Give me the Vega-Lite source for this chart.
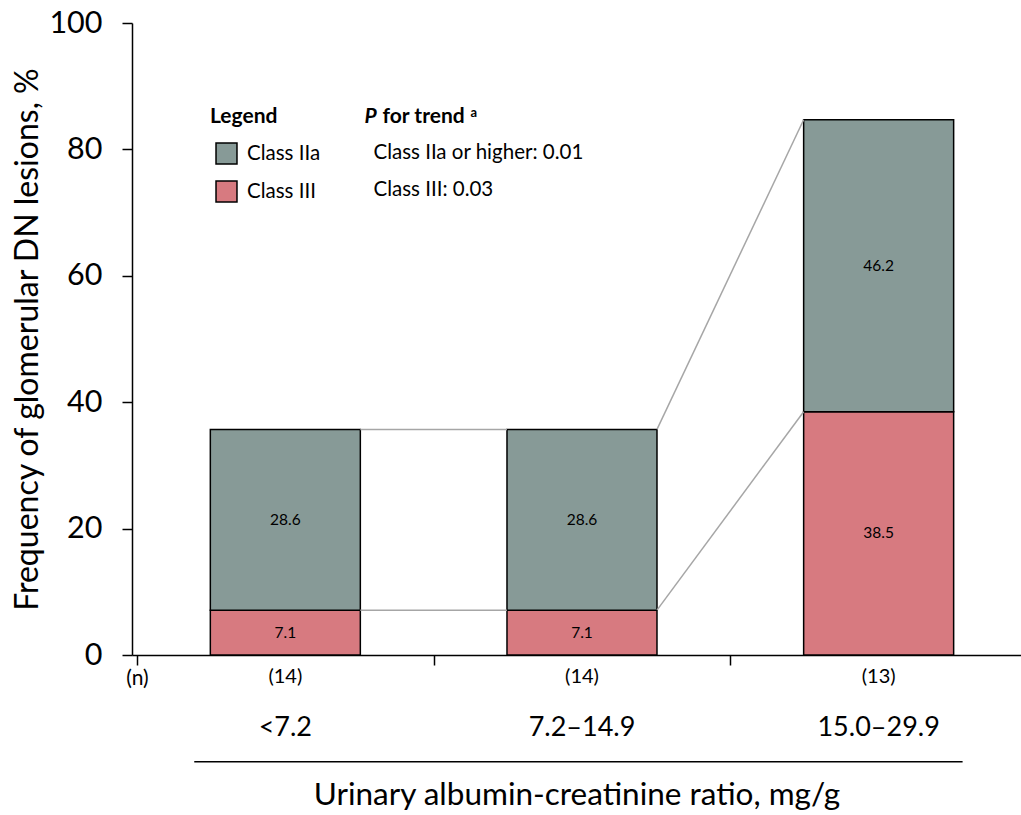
{
  "$schema": "https://vega.github.io/schema/vega-lite/v6.json",
  "width": 889,
  "height": 632,
  "autosize": "none",
  "padding": {"left": 132, "top": 23, "right": 0, "bottom": 160},
  "background": "white",
  "config": {
    "font": "Lato",
    "view": {"stroke": null},
    "axis": {"grid": false, "domainColor": "black", "tickColor": "black", "labelColor": "black", "titleColor": "black", "domainWidth": 1.5, "tickWidth": 1.5, "titleFontWeight": "normal"},
    "axisX": {"labelFlush": false, "labelAlign": "center", "labelFontSize": 21, "labelPadding": 2}
  },
  "datasets": {
    "bars": [
      {"idx": 0, "group": "<7.2", "cls": "Class III", "pct": 7.1},
      {"idx": 0, "group": "<7.2", "cls": "Class IIa", "pct": 28.6},
      {"idx": 1, "group": "7.2–14.9", "cls": "Class III", "pct": 7.1},
      {"idx": 1, "group": "7.2–14.9", "cls": "Class IIa", "pct": 28.6},
      {"idx": 2, "group": "15.0–29.9", "cls": "Class III", "pct": 38.5},
      {"idx": 2, "group": "15.0–29.9", "cls": "Class IIa", "pct": 46.2}
    ],
    "groups": [
      {"idx": 0, "group": "<7.2", "n": "(14)"},
      {"idx": 1, "group": "7.2–14.9", "n": "(14)"},
      {"idx": 2, "group": "15.0–29.9", "n": "(13)"}
    ],
    "connectors": [
      {"idx": 0, "idx2": 1, "y_from": 35.7, "y_to": 35.7},
      {"idx": 0, "idx2": 1, "y_from": 7.1, "y_to": 7.1},
      {"idx": 1, "idx2": 2, "y_from": 35.7, "y_to": 84.7},
      {"idx": 1, "idx2": 2, "y_from": 7.1, "y_to": 38.5}
    ],
    "one": [{}]
  },
  "layer": [
    {
      "data": {"name": "bars"},
      "transform": [
        {"stack": "pct", "groupby": ["idx"], "sort": [{"field": "cls", "order": "ascending"}], "as": ["v0", "v1"]}
      ],
      "mark": {"type": "bar", "size": 150, "stroke": "black", "strokeWidth": 1.5},
      "encoding": {
        "x": {
          "field": "idx", "type": "quantitative",
          "scale": {"domain": [-0.5, 2.463], "nice": false, "zero": false},
          "axis": {
            "values": [-0.5, 0.5, 1.5],
            "labelExpr": "datum.value == -0.5 ? '(n)' : ''",
            "tickSize": 10, "labelOverlap": false, "labelBound": false,
            "title": "Urinary albumin-creatinine ratio, mg/g",
            "titleFontSize": 31.5, "titlePadding": 91
          }
        },
        "y": {
          "field": "v1", "type": "quantitative",
          "scale": {"domain": [0, 100], "nice": false},
          "axis": {
            "values": [0, 20, 40, 60, 80, 100],
            "labelFontSize": 30.5, "labelPadding": 20, "tickSize": 10,
            "title": "Frequency of glomerular DN lesions, %",
            "titleFontSize": 32, "titlePadding": 4
          }
        },
        "y2": {"field": "v0"},
        "color": {
          "field": "cls", "type": "nominal",
          "scale": {"domain": ["Class IIa", "Class III"], "range": ["#879a97", "#d77a80"]},
          "legend": {
            "orient": "none", "legendX": 78, "legendY": 83,
            "title": "Legend", "titleFontSize": 21, "titleFontWeight": "bold", "titleColor": "black", "titlePadding": 15,
            "labelFontSize": 20.5, "labelColor": "black", "labelOffset": 9,
            "symbolType": "square", "symbolSize": 440, "symbolStrokeColor": "black", "symbolStrokeWidth": 1.5, "symbolOpacity": 1,
            "symbolOffset": 5, "rowPadding": 11
          }
        }
      }
    },
    {
      "data": {"name": "connectors"},
      "mark": {"type": "rule", "color": "#a6a6a6", "strokeWidth": 1.5, "xOffset": 75, "x2Offset": -75},
      "encoding": {
        "x": {"field": "idx", "type": "quantitative"},
        "x2": {"field": "idx2"},
        "y": {"field": "y_from", "type": "quantitative"},
        "y2": {"field": "y_to"}
      }
    },
    {
      "data": {"name": "bars"},
      "transform": [
        {"stack": "pct", "groupby": ["idx"], "sort": [{"field": "cls", "order": "ascending"}], "as": ["v0", "v1"]},
        {"calculate": "(datum.v0 + datum.v1) / 2", "as": "mid"}
      ],
      "mark": {"type": "text", "fontSize": 15.5, "color": "black", "baseline": "middle"},
      "encoding": {
        "x": {"field": "idx", "type": "quantitative"},
        "y": {"field": "mid", "type": "quantitative"},
        "text": {"field": "pct", "type": "quantitative", "format": ".1f"}
      }
    },
    {
      "data": {"name": "groups"},
      "mark": {"type": "text", "fontSize": 20, "color": "black", "baseline": "middle", "dy": 22},
      "encoding": {
        "x": {"field": "idx", "type": "quantitative"},
        "y": {"datum": 0, "type": "quantitative"},
        "text": {"field": "n"}
      }
    },
    {
      "data": {"name": "groups"},
      "mark": {"type": "text", "fontSize": 27, "color": "black", "baseline": "middle", "dy": 73},
      "encoding": {
        "x": {"field": "idx", "type": "quantitative"},
        "y": {"datum": 0, "type": "quantitative"},
        "text": {"field": "group"}
      }
    },
    {
      "data": {"name": "one"},
      "mark": {"type": "rule", "color": "black", "strokeWidth": 1.5},
      "encoding": {
        "x": {"datum": -0.307, "type": "quantitative"},
        "x2": {"datum": 2.283},
        "y": {"datum": -16.9, "type": "quantitative"}
      }
    },
    {
      "data": {"name": "one"},
      "mark": {"type": "text", "fontSize": 21, "fontWeight": "bold", "fontStyle": "italic", "color": "black", "align": "left", "baseline": "middle"},
      "encoding": {
        "x": {"datum": 0.267, "type": "quantitative"},
        "y": {"datum": 85.2, "type": "quantitative"},
        "text": {"value": "P"}
      }
    },
    {
      "data": {"name": "one"},
      "mark": {"type": "text", "fontSize": 21, "fontWeight": "bold", "color": "black", "align": "left", "baseline": "middle", "dx": 18},
      "encoding": {
        "x": {"datum": 0.267, "type": "quantitative"},
        "y": {"datum": 85.2, "type": "quantitative"},
        "text": {"value": "for trend"}
      }
    },
    {
      "data": {"name": "one"},
      "mark": {"type": "text", "fontSize": 13, "fontWeight": "bold", "color": "black", "align": "left", "baseline": "middle", "dx": 106, "dy": -4},
      "encoding": {
        "x": {"datum": 0.267, "type": "quantitative"},
        "y": {"datum": 85.2, "type": "quantitative"},
        "text": {"value": "a"}
      }
    },
    {
      "data": {"name": "one"},
      "mark": {"type": "text", "fontSize": 20.5, "color": "black", "align": "left", "baseline": "middle"},
      "encoding": {
        "x": {"datum": 0.297, "type": "quantitative"},
        "y": {"datum": 79.5, "type": "quantitative"},
        "text": {"value": "Class IIa or higher: 0.01"}
      }
    },
    {
      "data": {"name": "one"},
      "mark": {"type": "text", "fontSize": 20.5, "color": "black", "align": "left", "baseline": "middle"},
      "encoding": {
        "x": {"datum": 0.297, "type": "quantitative"},
        "y": {"datum": 73.6, "type": "quantitative"},
        "text": {"value": "Class III: 0.03"}
      }
    }
  ]
}
